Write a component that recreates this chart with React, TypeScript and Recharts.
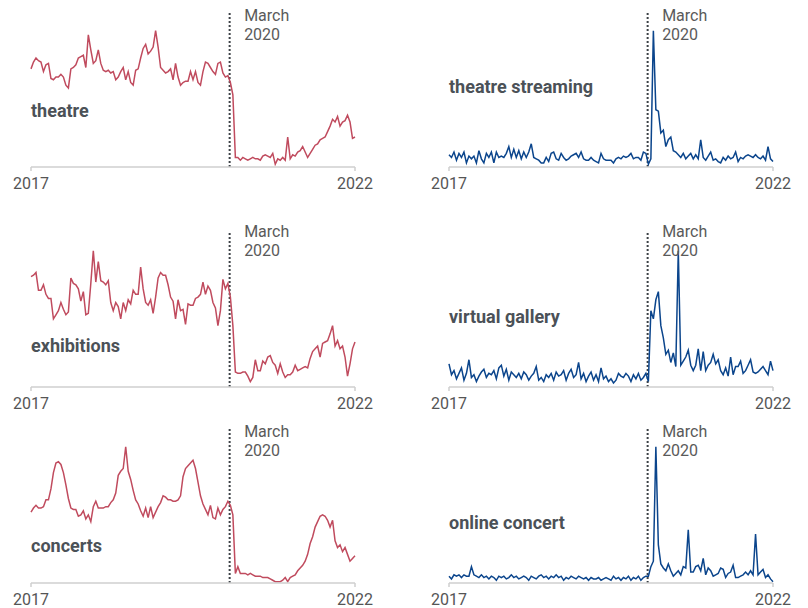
import { LineChart, Line, XAxis, YAxis, ReferenceLine } from "recharts";

// biweekly Google-Trends style index (0-100), Jan 2017 - Jan 2022
const yearTicks = [0, 130];
const yearLabels = ["2017", "2022"];
const marchIndex = 79.7;
const marchLabel = ["March", "2020"];

const theatre = [
  72, 77, 80, 78, 77, 70, 75, 76, 65, 64,
  66, 66, 68, 66, 60, 58, 72, 73, 75, 80,
  81, 82, 73, 97, 86, 76, 78, 86, 76, 71,
  70, 71, 69, 70, 64, 66, 70, 73, 64, 70,
  62, 60, 71, 72, 80, 87, 90, 83, 85, 88,
  100, 88, 73, 71, 69, 70, 72, 64, 76, 66,
  60, 62, 63, 63, 70, 64, 70, 62, 60, 70,
  77, 76, 73, 70, 68, 76, 77, 69, 66, 67,
  62, 53, 7, 7, 5, 7, 6, 5, 6, 7,
  6, 6, 5, 8, 9, 8, 7, 10, 2, 6,
  5, 7, 5, 22, 6, 9, 8, 11, 12, 15,
  11, 7, 10, 13, 16, 17, 20, 21, 22, 26,
  30, 35, 33, 37, 30, 33, 34, 38, 33, 21, 22,
];

const theatreStreaming = [
  9, 7, 11, 5, 10, 7, 11, 3, 8, 6,
  8, 3, 12, 6, 3, 10, 7, 11, 3, 11,
  7, 8, 7, 10, 15, 7, 13, 7, 12, 6,
  11, 7, 11, 17, 7, 6, 5, 3, 3, 7,
  4, 10, 11, 6, 5, 10, 7, 5, 6, 8,
  9, 10, 7, 11, 6, 5, 5, 7, 5, 4,
  3, 10, 6, 5, 5, 5, 3, 6, 7, 6,
  8, 7, 8, 10, 6, 7, 7, 5, 11, 10,
  2, 6, 100, 42, 41, 25, 27, 15, 20, 22,
  12, 11, 9, 7, 10, 6, 8, 10, 6, 9,
  6, 20, 7, 5, 8, 11, 5, 6, 4, 3,
  7, 5, 8, 6, 7, 11, 4, 7, 6, 8,
  9, 8, 7, 9, 7, 6, 8, 5, 15, 6, 4,
];

const exhibitions = [
  81, 82, 84, 71, 71, 75, 68, 65, 65, 50,
  53, 56, 62, 57, 53, 55, 80, 76, 75, 72,
  63, 70, 53, 54, 76, 100, 77, 92, 78, 77,
  75, 78, 62, 56, 62, 59, 50, 62, 56, 64,
  61, 71, 68, 68, 88, 72, 62, 60, 64, 54,
  66, 80, 84, 82, 82, 75, 66, 63, 50, 64,
  56, 57, 46, 61, 60, 60, 65, 66, 68, 77,
  68, 74, 71, 62, 58, 45, 56, 79, 72, 76,
  66, 45, 11, 10, 10, 11, 11, 8, 4, 7,
  20, 12, 12, 19, 17, 22, 23, 18, 16, 10,
  17, 11, 7, 9, 9, 11, 16, 12, 13, 14,
  15, 14, 21, 26, 28, 30, 22, 32, 33, 34,
  39, 45, 30, 34, 28, 30, 22, 8, 17, 28, 33,
];

const virtualGallery = [
  17, 9, 12, 6, 10, 14, 5, 10, 20, 7,
  9, 4, 8, 11, 13, 7, 10, 9, 12, 6,
  14, 16, 8, 13, 5, 11, 9, 7, 10, 6,
  11, 9, 5, 8, 10, 15, 5, 7, 4, 9,
  7, 10, 5, 11, 8, 9, 12, 5, 10, 13,
  7, 9, 18, 6, 10, 4, 8, 11, 5, 9,
  4, 14, 6, 8, 4, 6, 3, 5, 10, 8,
  7, 10, 8, 4, 9, 6, 10, 5, 7, 10,
  4, 56, 50, 64, 70, 45, 36, 24, 27, 18,
  25, 15, 100, 16, 19, 22, 27, 16, 12, 16,
  28, 12, 26, 12, 16, 18, 24, 17, 20, 12,
  9, 14, 8, 22, 9, 15, 15, 19, 10, 12,
  16, 20, 11, 10, 11, 13, 15, 12, 9, 19, 12,
];

const concerts = [
  52, 55, 57, 55, 55, 56, 61, 61, 69, 81,
  88, 89, 87, 81, 72, 62, 55, 54, 54, 49,
  50, 53, 47, 50, 45, 56, 60, 55, 55, 55,
  56, 56, 59, 61, 66, 79, 82, 84, 100, 82,
  76, 68, 61, 58, 53, 49, 55, 48, 56, 48,
  52, 56, 59, 64, 63, 61, 61, 60, 60, 61,
  64, 78, 84, 86, 88, 90, 84, 74, 64, 58,
  54, 50, 57, 48, 47, 55, 50, 54, 56, 60,
  57, 50, 7, 12, 7, 7, 7, 6, 7, 6,
  5, 5, 5, 4, 4, 4, 3, 2, 1, 1,
  1, 2, 4, 1, 4, 5, 6, 9, 11, 13,
  16, 21, 29, 34, 41, 45, 49, 50, 49, 46,
  41, 46, 31, 26, 28, 23, 26, 21, 16, 18, 20,
];

const onlineConcert = [
  5, 3, 6, 5, 6, 4, 6, 5, 5, 12,
  6, 5, 4, 6, 4, 5, 3, 5, 4, 2,
  5, 4, 5, 3, 4, 6, 4, 5, 3, 4,
  5, 4, 2, 5, 4, 3, 5, 6, 4, 5,
  3, 5, 4, 6, 4, 5, 2, 4, 3, 5,
  4, 3, 5, 4, 3, 4, 2, 4, 3, 3,
  4, 2, 3, 4, 3, 2, 5, 3, 4, 2,
  4, 3, 5, 2, 4, 3, 5, 2, 4, 5,
  5, 12, 16, 100, 28, 14, 11, 9, 14, 9,
  5, 7, 9, 6, 12, 11, 39, 8, 8, 12,
  13, 9, 18, 6, 11, 9, 5, 6, 7, 11,
  10, 4, 7, 8, 13, 4, 4, 5, 6, 8,
  6, 9, 6, 36, 6, 8, 10, 4, 6, 3, 1,
];

const RED = "#c04b5e";
const BLUE = "#0b458c";
const FONT = "Roboto, 'Noto Sans', sans-serif";

const PLOT_W = 324;
const PLOT_H = 154;

const panels = [
  { name: "theatre", values: theatre, color: RED, left: 31, axisY: 167, nameY: 117, marchY: 21 },
  { name: "theatre streaming", values: theatreStreaming, color: BLUE, left: 449, axisY: 167, nameY: 93, marchY: 21 },
  { name: "exhibitions", values: exhibitions, color: RED, left: 31, axisY: 387, nameY: 352, marchY: 237 },
  { name: "virtual gallery", values: virtualGallery, color: BLUE, left: 449, axisY: 387, nameY: 323, marchY: 237 },
  { name: "concerts", values: concerts, color: RED, left: 31, axisY: 583, nameY: 552, marchY: 437 },
  { name: "online concert", values: onlineConcert, color: BLUE, left: 449, axisY: 583, nameY: 529, marchY: 437 },
];

function Panel({ values, color, left, axisY }: { values: number[]; color: string; left: number; axisY: number }) {
  const data = values.map((v, i) => ({ i, v }));
  return (
    <div style={{ position: "absolute", left: left - 20, top: axisY - PLOT_H - 10 }}>
      <LineChart width={PLOT_W + 40} height={PLOT_H + 40} data={data} margin={{ top: 10, right: 20, bottom: 0, left: 20 }}>
        <XAxis
          dataKey="i"
          type="number"
          domain={[0, 130]}
          ticks={yearTicks}
          interval={0}
          height={30}
          tickFormatter={(v) => yearLabels[yearTicks.indexOf(v)]}
          axisLine={{ stroke: "#cfcfcf", strokeWidth: 1.5 }}
          tickLine={{ stroke: "#cfcfcf", strokeWidth: 1.5 }}
          tickSize={4}
          tickMargin={7}
          tick={{ fill: "#555", fontSize: 16, fontFamily: FONT }}
        />
        <YAxis hide domain={[0, 113]} />
        <ReferenceLine x={marchIndex} stroke="#3d4247" strokeWidth={2} strokeDasharray="2 2" />
        <Line type="linear" dataKey="v" stroke={color} strokeWidth={1.5} dot={false} isAnimationActive={false} />
      </LineChart>
    </div>
  );
}

export default function App() {
  return (
    <div style={{ position: "absolute", left: 0, top: 0, width: 808, height: 608, background: "#fff", fontFamily: FONT }}>
      {panels.map((p) => (
        <Panel key={p.name} values={p.values} color={p.color} left={p.left} axisY={p.axisY} />
      ))}
      <svg width={808} height={608} style={{ position: "absolute", left: 0, top: 0, pointerEvents: "none" }}>
        {panels.map((p) => {
          const lineX = p.left + (PLOT_W * marchIndex) / 130;
          return (
            <g key={p.name}>
              <text x={p.left} y={p.nameY} fill="#4b5157" fontSize={18} fontWeight={700} fontFamily={FONT}>
                {p.name}
              </text>
              <text x={lineX + 14.5} y={p.marchY} fill="#5a5a5a" fontSize={16} fontFamily={FONT}>
                {marchLabel[0]}
              </text>
              <text x={lineX + 14.5} y={p.marchY + 18.5} fill="#5a5a5a" fontSize={16} fontFamily={FONT}>
                {marchLabel[1]}
              </text>
            </g>
          );
        })}
      </svg>
    </div>
  );
}
